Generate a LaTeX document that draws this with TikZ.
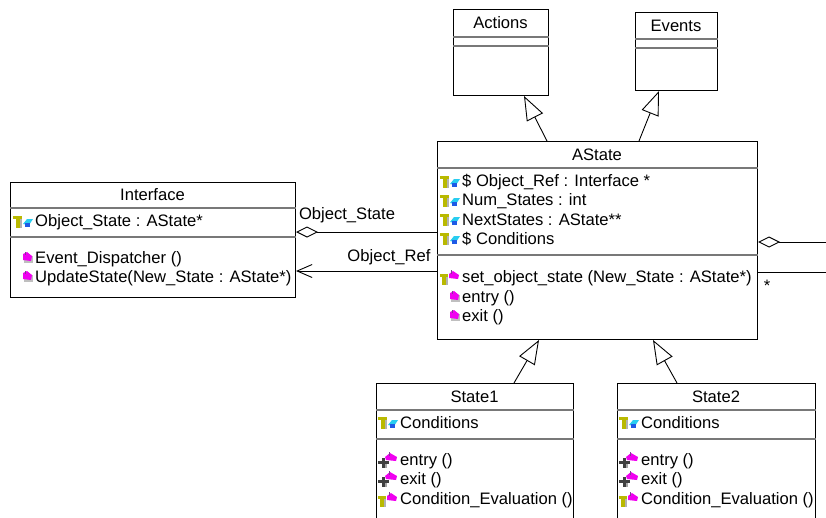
\documentclass[tikz,border=0pt]{standalone}
\usepackage{fontspec}
\setmainfont{Liberation Sans}
\usetikzlibrary{arrows.meta}
\usetikzlibrary{calc}
\definecolor{iconyellow}{RGB}{185,185,0}
\definecolor{iconcyan}{RGB}{40,205,240}
\definecolor{iconblue}{RGB}{30,90,230}
\definecolor{iconmagenta}{RGB}{240,0,240}
\definecolor{iconpurple}{RGB}{130,60,150}
\definecolor{divider}{RGB}{120,120,120}

\tikzset{
  classbox/.style={draw, rectangle, inner sep=0pt, anchor=north west, line width=1pt},
  divline/.style={divider, line width=1.3pt},
  member/.style={anchor=west, inner sep=0pt},
  generalize/.style={line width=0.9pt, -{Triangle[open, length=24pt, width=18pt]}},
  aggregate/.style={line width=0.9pt, -{Diamond[open, length=22pt, width=11pt]}},
  navigate/.style={line width=0.9pt, -{Straight Barb[length=15pt, width=13pt]}},
  attricon/.pic={
    \fill[iconyellow] (-22,-6) rectangle (-13,-3);
    \fill[iconyellow] (-19,-3) rectangle (-15,6);
    \fill[black!30] (-15,-3) rectangle (-13,6);
    \fill[iconcyan] (-12,2) -- (-8,-3) -- (-2,-3) -- (-6,3) -- cycle;
    \fill[iconblue] (-10,1) rectangle (-5,5);
  },
  opicon/.pic={
    \fill[black!25] (-11,-3) rectangle (-2,4);
    \fill[iconmagenta] (-12,-5) -- (-8,-7) -- (-3,-3) -- (-4,2) -- (-12,1) -- cycle;
    \fill[iconpurple] (-10,-7) rectangle (-9,-4);
  },
  pubopicon/.pic={
    \fill[iconyellow] (-22,-4) rectangle (-14,-1);
    \fill[iconyellow] (-20,-1) rectangle (-16,7);
    \fill[black!30] (-16,-1) rectangle (-14,7);
    \fill[iconmagenta] (-13,-4) -- (-9,-7) -- (-3,-3) -- (-4,1) -- (-13,0) -- cycle;
    \fill[iconpurple] (-11,-8) rectangle (-10,-4);
  },
  protopicon/.pic={
    \fill[black!75] (-22,0) rectangle (-11,3);
    \fill[black!75] (-18,-3) rectangle (-15,7);
    \fill[black!35] (-15,3) rectangle (-13,7);
    \fill[iconmagenta] (-15,-4) -- (-10,-8) -- (-3,-4) -- (-4,0) -- (-14,-1) -- cycle;
    \fill[iconpurple] (-11,-9) rectangle (-10,-5);
  }
}

\begin{document}
\begin{tikzpicture}[x=1pt, y=-1pt, font=\fontsize{16.6}{19}\selectfont]

    \useasboundingbox (0,0) rectangle (826,517);
    \clip (0,0) rectangle (826,517);

    % boxes
    \node[classbox, minimum width=95pt, minimum height=86pt] (actions) at (453,9) {};
    \node[classbox, minimum width=82pt, minimum height=78pt] (events) at (635,12) {};
    \node[classbox, minimum width=320pt, minimum height=198pt] (astate) at (437,141) {};
    \node[classbox, minimum width=285pt, minimum height=115pt] (interface) at (10,182) {};
    \node[classbox, minimum width=197pt, minimum height=150pt] (state1) at (376,383) {};
    \node[classbox, minimum width=198pt, minimum height=150pt] (state2) at (617,383) {};

    % compartments
    \draw[divline] ($(actions.north west)+(0,28)$) -- ($(actions.north east)+(0,28)$);
    \draw[divline] ($(actions.north west)+(0,37)$) -- ($(actions.north east)+(0,37)$);
    \draw[divline] ($(events.north west)+(0,27)$) -- ($(events.north east)+(0,27)$);
    \draw[divline] ($(events.north west)+(0,36)$) -- ($(events.north east)+(0,36)$);
    \draw[divline] ($(astate.north west)+(0,27)$) -- ($(astate.north east)+(0,27)$);
    \draw[divline] ($(astate.north west)+(0,114)$) -- ($(astate.north east)+(0,114)$);
    \draw[divline] ($(interface.north west)+(0,26)$) -- ($(interface.north east)+(0,26)$);
    \draw[divline] ($(interface.north west)+(0,55)$) -- ($(interface.north east)+(0,55)$);
    \draw[divline] ($(state1.north west)+(0,27)$) -- ($(state1.north east)+(0,27)$);
    \draw[divline] ($(state1.north west)+(0,56)$) -- ($(state1.north east)+(0,56)$);
    \draw[divline] ($(state2.north west)+(0,27)$) -- ($(state2.north east)+(0,27)$);
    \draw[divline] ($(state2.north west)+(0,56)$) -- ($(state2.north east)+(0,56)$);

    % titles
    \node (actionsname) at (500.5,23) {Actions};
    \node (eventsname) at (676,25.5) {Events};
    \node (astatename) at (597,155) {AState};
    \node (interfacename) at (152.5,195) {Interface};
    \node (state1name) at (474.5,397) {State1};
    \node (state2name) at (716,397) {State2};

    % AState members
    \pic at (462,182) {attricon};
    \node[member] (asattr1) at (462,182) {\$ Object\_Ref : Interface *};
    \pic at (462,201) {attricon};
    \node[member] (asattr2) at (462,201) {Num\_States : int};
    \pic at (462,220) {attricon};
    \node[member] (asattr3) at (462,220) {NextStates : AState**};
    \pic at (462,239) {attricon};
    \node[member] (asattr4) at (462,239) {\$ Conditions};
    \pic at (462,278) {pubopicon};
    \node[member] (asop1) at (462,278) {set\_object\_state (New\_State : AState*)};
    \pic at (462,298) {opicon};
    \node[member] (asop2) at (462,298) {entry ()};
    \pic at (462,317) {opicon};
    \node[member] (asop3) at (462,317) {exit ()};

    % Interface members
    \pic at (35,222) {attricon};
    \node[member] (ifattr1) at (35,222) {Object\_State : AState*};
    \pic at (35,259) {opicon};
    \node[member] (ifop1) at (35,259) {Event\_Dispatcher ()};
    \pic at (35,278) {opicon};
    \node[member] (ifop2) at (35,278) {UpdateState(New\_State : AState*)};

    % State1 members
    \pic at (400,423) {attricon};
    \node[member] (s1attr1) at (400,423) {Conditions};
    \pic at (400,461) {protopicon};
    \node[member] (s1op1) at (400,461) {entry ()};
    \pic at (400,480) {protopicon};
    \node[member] (s1op2) at (400,480) {exit ()};
    \pic at (400,500) {pubopicon};
    \node[member] (s1op3) at (400,500) {Condition\_Evaluation ()};

    % State2 members
    \pic at (641,423) {attricon};
    \node[member] (s2attr1) at (641,423) {Conditions};
    \pic at (641,461) {protopicon};
    \node[member] (s2op1) at (641,461) {entry ()};
    \pic at (641,480) {protopicon};
    \node[member] (s2op2) at (641,480) {exit ()};
    \pic at (641,500) {pubopicon};
    \node[member] (s2op3) at (641,500) {Condition\_Evaluation ()};

    % generalizations
    \draw[generalize] ($(astate.north west)+(110,0)$) -- ($(actions.south west)+(71,0)$);
    \draw[generalize] ($(astate.north west)+(202,0)$) -- ($(events.south west)+(24,0)$);
    \draw[generalize] ($(state1.north west)+(138,0)$) -- ($(astate.south west)+(102,0)$);
    \draw[generalize] ($(state2.north west)+(60,0)$) -- ($(astate.south west)+(216,0)$);

    % associations
    \draw[aggregate] ($(astate.north west)+(0,91)$) -- ($(interface.north east)+(0,50)$);
    \draw[navigate] ($(astate.north west)+(0,130)$) -- ($(interface.north east)+(0,89)$);
    \node (objstatelbl) at (347,215) {Object\_State};
    \node (objreflbl) at (389,257) {Object\_Ref};

    \coordinate (rightA) at (826,242);
    \coordinate (rightB) at (826,272);
    \draw[aggregate] (rightA) -- ($(astate.north east)+(0,101)$);
    \draw[line width=0.9pt] (rightB) -- ($(astate.north east)+(0,131)$);
    \node (multlbl) at (767,286) {*};

\end{tikzpicture}
\end{document}
